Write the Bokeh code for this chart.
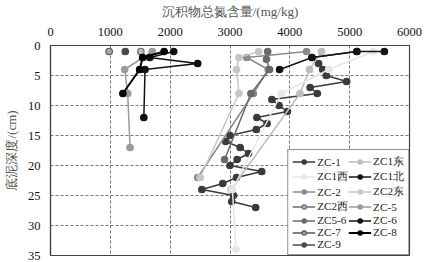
from bokeh.plotting import figure
from bokeh.models import Range1d, FixedTicker, Legend, LegendItem
from bokeh.embed import file_html
from bokeh.resources import INLINE

# ---------------- data ----------------
names = ["ZC-1", "ZC1东", "ZC1西", "ZC1北", "ZC-2", "ZC2东", "ZC2西",
         "ZC-5", "ZC5-6", "ZC-6", "ZC-7", "ZC-8", "ZC-9"]

zc1_n = [5120, 4370, 4480, 4550, 4610, 4950, 4340, 4460, 3700, 3820, 3960, 3450, 3620, 3440,
         3000, 2930, 3170, 3310, 3120, 3000, 3530, 3110, 2880, 2530, 3060, 3030, 3430]
zc1_d = [1, 2, 3, 4, 5, 6, 7, 8, 9, 10, 11, 12, 13, 14,
         15, 16, 17, 18, 19, 20, 21, 22, 23, 24, 25, 26, 27]
zc1e_n = [4530, 4330, 4170, 3020]
zc1e_d = [1, 4, 8, 24]
zc1w_n = [5390, 4650, 3860, 3040, 3100]
zc1w_d = [1, 4, 8, 24, 34]
zc1n_n = [5580, 5120, 4370, 3830]
zc1n_d = [1, 1, 2, 4]
zc2_n = [4280, 3280, 3640, 3390, 2460]
zc2_d = [1, 2, 4, 8, 22]
zc2e_n = [3480, 3150, 3110, 3150, 2500]
zc2e_d = [1, 2, 4, 8, 22]
zc2w_n = [1510]
zc2w_d = [1]
zc5_n = [1700, 1240, 1290, 1330]
zc5_d = [1, 4, 8, 17]
zc56_n = [3630, 3610, 3660, 3350, 2910]
zc56_d = [1, 2.3, 4, 8, 19]
zc6_n = [2060, 1660, 2460, 1580, 1560]
zc6_d = [1, 2, 3, 4, 12]
zc7_n = [980]
zc7_d = [1]
zc8_n = [1900, 1540, 1490, 1210]
zc8_d = [1, 2, 4, 8]
zc9_n = [1250]
zc9_d = [1]

x_ticks = [0, 1000, 2000, 3000, 4000, 5000, 6000]
y_ticks = [0, 5, 10, 15, 20, 25, 30, 35]

series = [
    (zc1_n, zc1_d), (zc1e_n, zc1e_d), (zc1w_n, zc1w_d), (zc1n_n, zc1n_d),
    (zc2_n, zc2_d), (zc2e_n, zc2e_d), (zc2w_n, zc2w_d), (zc5_n, zc5_d),
    (zc56_n, zc56_d), (zc6_n, zc6_d), (zc7_n, zc7_d), (zc8_n, zc8_d), (zc9_n, zc9_d),
]

# style: (line color, marker fill, marker outline, line width)
styles = [
    ("#3a3a3a", "#3a3a3a", "#3a3a3a", 1.5),
    ("#bdbdbd", "#bdbdbd", "#bdbdbd", 1.5),
    ("#e6e6e6", "#e6e6e6", "#e6e6e6", 1.5),
    ("#141414", "#141414", "#141414", 1.5),
    ("#8a8a8a", "#8a8a8a", "#8a8a8a", 1.5),
    ("#c6c6c6", "#c6c6c6", "#c6c6c6", 1.5),
    ("#6a6a6a", "#bdbdbd", "#6a6a6a", 1.5),
    ("#9a9a9a", "#9a9a9a", "#9a9a9a", 1.5),
    ("#6a6a6a", "#6a6a6a", "#6a6a6a", 1.5),
    ("#111111", "#111111", "#111111", 1.5),
    ("#555555", "#a8a8a8", "#555555", 1.5),
    ("#000000", "#000000", "#000000", 2.0),
    ("#4a4a4a", "#4a4a4a", "#4a4a4a", 1.5),
]

SERIF = "Liberation Serif"

p = figure(width=427, height=262, output_backend="svg", toolbar_location=None,
           x_range=Range1d(0, 6000), y_range=Range1d(35, 0),
           x_axis_location="above",
           min_border_left=49, min_border_right=18, min_border_top=45, min_border_bottom=7)
p.background_fill_color = "white"
p.border_fill_color = "white"
p.outline_line_color = "#444444"
p.outline_line_width = 1.2

p.xaxis.ticker = FixedTicker(ticks=x_ticks)
p.yaxis.ticker = FixedTicker(ticks=y_ticks)
p.xaxis.axis_label = "沉积物总氮含量/(mg/kg)"
p.yaxis.axis_label = "底泥深度/(cm)"
for ax in (p.xaxis, p.yaxis):
    ax.major_tick_line_color = None
    ax.minor_tick_line_color = None
    ax.axis_line_color = "#444444"
    ax.axis_line_width = 1.2
    ax.major_label_text_font = SERIF
    ax.major_label_text_font_size = "12.5px"
    ax.major_label_text_color = "#111111"
    ax.axis_label_text_font = SERIF
    ax.axis_label_text_font_size = "13px"
    ax.axis_label_text_font_style = "normal"
    ax.axis_label_text_color = "#555555"
    ax.major_label_standoff = 4
    ax.axis_label_standoff = 6

p.xgrid.ticker = FixedTicker(ticks=x_ticks[1:-1])
p.ygrid.ticker = FixedTicker(ticks=y_ticks[1:-1])
for g in (p.xgrid, p.ygrid):
    g.grid_line_color = "#777777"
    g.grid_line_dash = "3 2"
    g.grid_line_width = 1

items = []
for name, (xs, ds), (lc, fc, oc, lw) in zip(names, series, styles):
    r1 = p.line(xs, ds, line_color=lc, line_width=lw)
    r2 = p.scatter(xs, ds, size=6.5, fill_color=fc, line_color=oc, line_width=1.2)
    items.append(LegendItem(label=name, renderers=[r1, r2]))

# legend is filled column by column: put even entries in column 1, odd in column 2
ordered = items[0::2] + items[1::2]
legend = Legend(items=ordered, ncols=2, location="bottom_right")
legend.label_text_font = SERIF
legend.label_text_font_size = "11.2px"
legend.label_text_color = "#222222"
legend.label_text_line_height = 1.0
legend.glyph_width = 23
legend.glyph_height = 11
legend.label_height = 11
legend.label_standoff = 2
legend.spacing = 0
legend.padding = 4
legend.margin = 0
legend.border_line_color = "#222222"
legend.border_line_width = 1.5
legend.background_fill_alpha = 1
p.add_layout(legend, "center")

open("out.html", "w").write(file_html(p, INLINE))
